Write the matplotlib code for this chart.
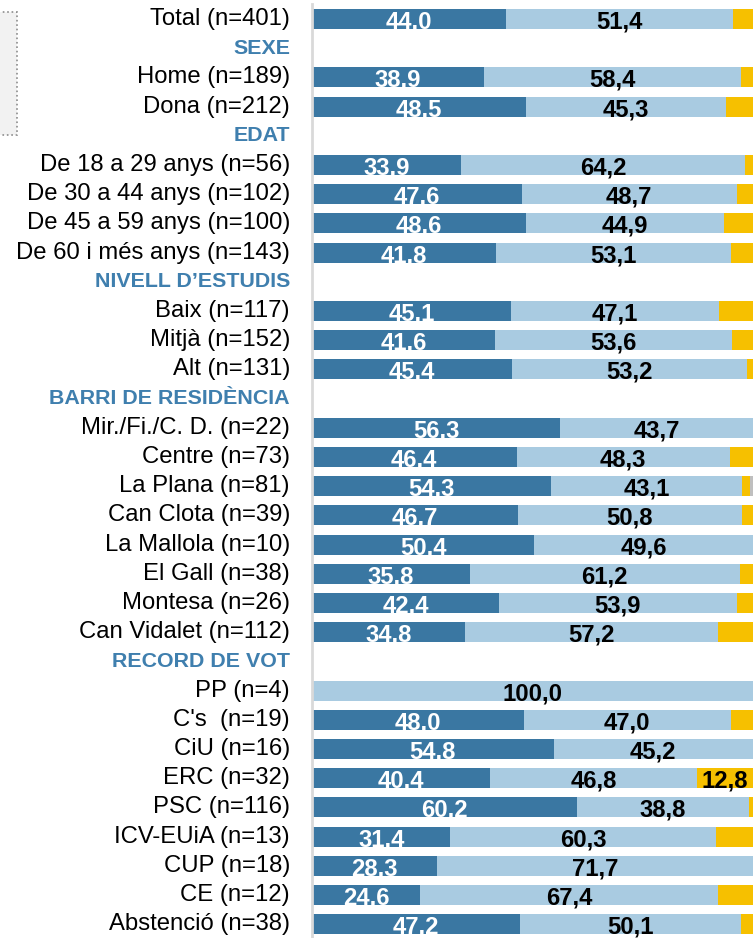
import matplotlib.pyplot as plt
import numpy as np
from matplotlib.patches import Rectangle

plt.rcParams['font.family'] = ['Liberation Sans', 'DejaVu Sans']

# rows (section headers carry no values)
labels = ['Total (n=401)', 'SEXE', 'Home (n=189)', 'Dona (n=212)',
          'EDAT', 'De 18 a 29 anys (n=56)', 'De 30 a 44 anys (n=102)',
          'De 45 a 59 anys (n=100)', 'De 60 i més anys (n=143)',
          'NIVELL D\u2019ESTUDIS', 'Baix (n=117)', 'Mitjà (n=152)', 'Alt (n=131)',
          'BARRI DE RESIDÈNCIA', 'Mir./Fi./C. D. (n=22)', 'Centre (n=73)',
          'La Plana (n=81)', 'Can Clota (n=39)', 'La Mallola (n=10)',
          'El Gall (n=38)', 'Montesa (n=26)', 'Can Vidalet (n=112)',
          'RECORD DE VOT', 'PP (n=4)', "C's  (n=19)", 'CiU (n=16)', 'ERC (n=32)',
          'PSC (n=116)', 'ICV-EUiA (n=13)', 'CUP (n=18)', 'CE (n=12)',
          'Abstenció (n=38)']
headers = ['SEXE', 'EDAT', 'NIVELL D\u2019ESTUDIS', 'BARRI DE RESIDÈNCIA', 'RECORD DE VOT']

nan = np.nan
dark = [44.0, nan, 38.9, 48.5, nan, 33.9, 47.6, 48.6, 41.8, nan, 45.1, 41.6, 45.4,
        nan, 56.3, 46.4, 54.3, 46.7, 50.4, 35.8, 42.4, 34.8,
        nan, 0.0, 48.0, 54.8, 40.4, 60.2, 31.4, 28.3, 24.6, 47.2]
light = [51.4, nan, 58.4, 45.3, nan, 64.2, 48.7, 44.9, 53.1, nan, 47.1, 53.6, 53.2,
         nan, 43.7, 48.3, 43.1, 50.8, 49.6, 61.2, 53.9, 57.2,
         nan, 100.0, 47.0, 45.2, 46.8, 38.8, 60.3, 71.7, 67.4, 50.1]
yellow = [4.6, nan, 2.7, 6.2, nan, 1.9, 3.7, 6.5, 5.1, nan, 7.8, 4.8, 1.4,
          nan, 0.0, 5.3, 1.9, 2.5, 0.0, 3.0, 3.7, 8.0,
          nan, 0.0, 5.0, 0.0, 12.8, 1.0, 8.3, 0.0, 8.0, 2.7]
grey = [0.0, nan, 0.0, 0.0, nan, 0.0, 0.0, 0.0, 0.0, nan, 0.0, 0.0, 0.0,
        nan, 0.0, 0.0, 0.7, 0.0, 0.0, 0.0, 0.0, 0.0,
        nan, 0.0, 0.0, 0.0, 0.0, 0.0, 0.0, 0.0, 0.0, 0.0]

c_dark = '#3a77a2'
c_light = '#a9cbe1'
c_yellow = '#f6c000'
c_grey = '#bfbfbf'
c_head = '#3f7fae'

W, H = 754, 938
fig = plt.figure(figsize=(W / 100, H / 100), dpi=100)
ax = fig.add_axes([312 / W, 0, 441 / W, 1 - 4 / H])

n = len(labels)
y = np.arange(n)
d = np.nan_to_num(np.array(dark))
l = np.nan_to_num(np.array(light))
yl = np.nan_to_num(np.array(yellow))
g = np.nan_to_num(np.array(grey))
bh = 0.685

ax.barh(y, d, height=bh, color=c_dark, lw=0)
ax.barh(y, l, left=d, height=bh, color=c_light, lw=0)
ax.barh(y, yl, left=d + l, height=bh, color=c_yellow, lw=0)
ax.barh(y, g, left=d + l + yl, height=bh, color=c_grey, lw=0)

ytr = ax.get_yaxis_transform()
for i, lab in enumerate(labels):
    if lab in headers:
        ax.text(-0.05, i, lab, transform=ytr, ha='right', va='center',
                fontsize=15.4, fontweight='bold', color=c_head)
        continue
    ax.text(-0.05, i, lab, transform=ytr, ha='right', va='center',
            fontsize=17.2, color='black')
    segs = [(d[i], 0, 'white'), (l[i], d[i], 'black'), (yl[i], d[i] + l[i], 'black')]
    for val, left, col in segs:
        if val >= 10:
            ax.text(left + val / 2, i + 0.1, f'{val:.1f}'.replace('.', ','),
                    ha='center', va='center', fontsize=17.2, fontweight='bold',
                    color=col)

ax.set_xlim(0, 100)
ax.set_ylim((H - 19) / 29.2, -15 / 29.2)
ax.set_xticks([])
ax.set_yticks([])
for s in ['top', 'right', 'bottom']:
    ax.spines[s].set_visible(False)
ax.spines['left'].set_color('#d9d9d9')
ax.spines['left'].set_linewidth(2)

# cropped legend box at the left edge
fig.patches.append(Rectangle((-2 / W, 1 - 135 / H), 19 / W, 123 / H,
                             transform=fig.transFigure, facecolor='#f2f2f2',
                             edgecolor='#8c8c8c', ls=':', lw=1.2))

fig.savefig('out.png', dpi=100)
